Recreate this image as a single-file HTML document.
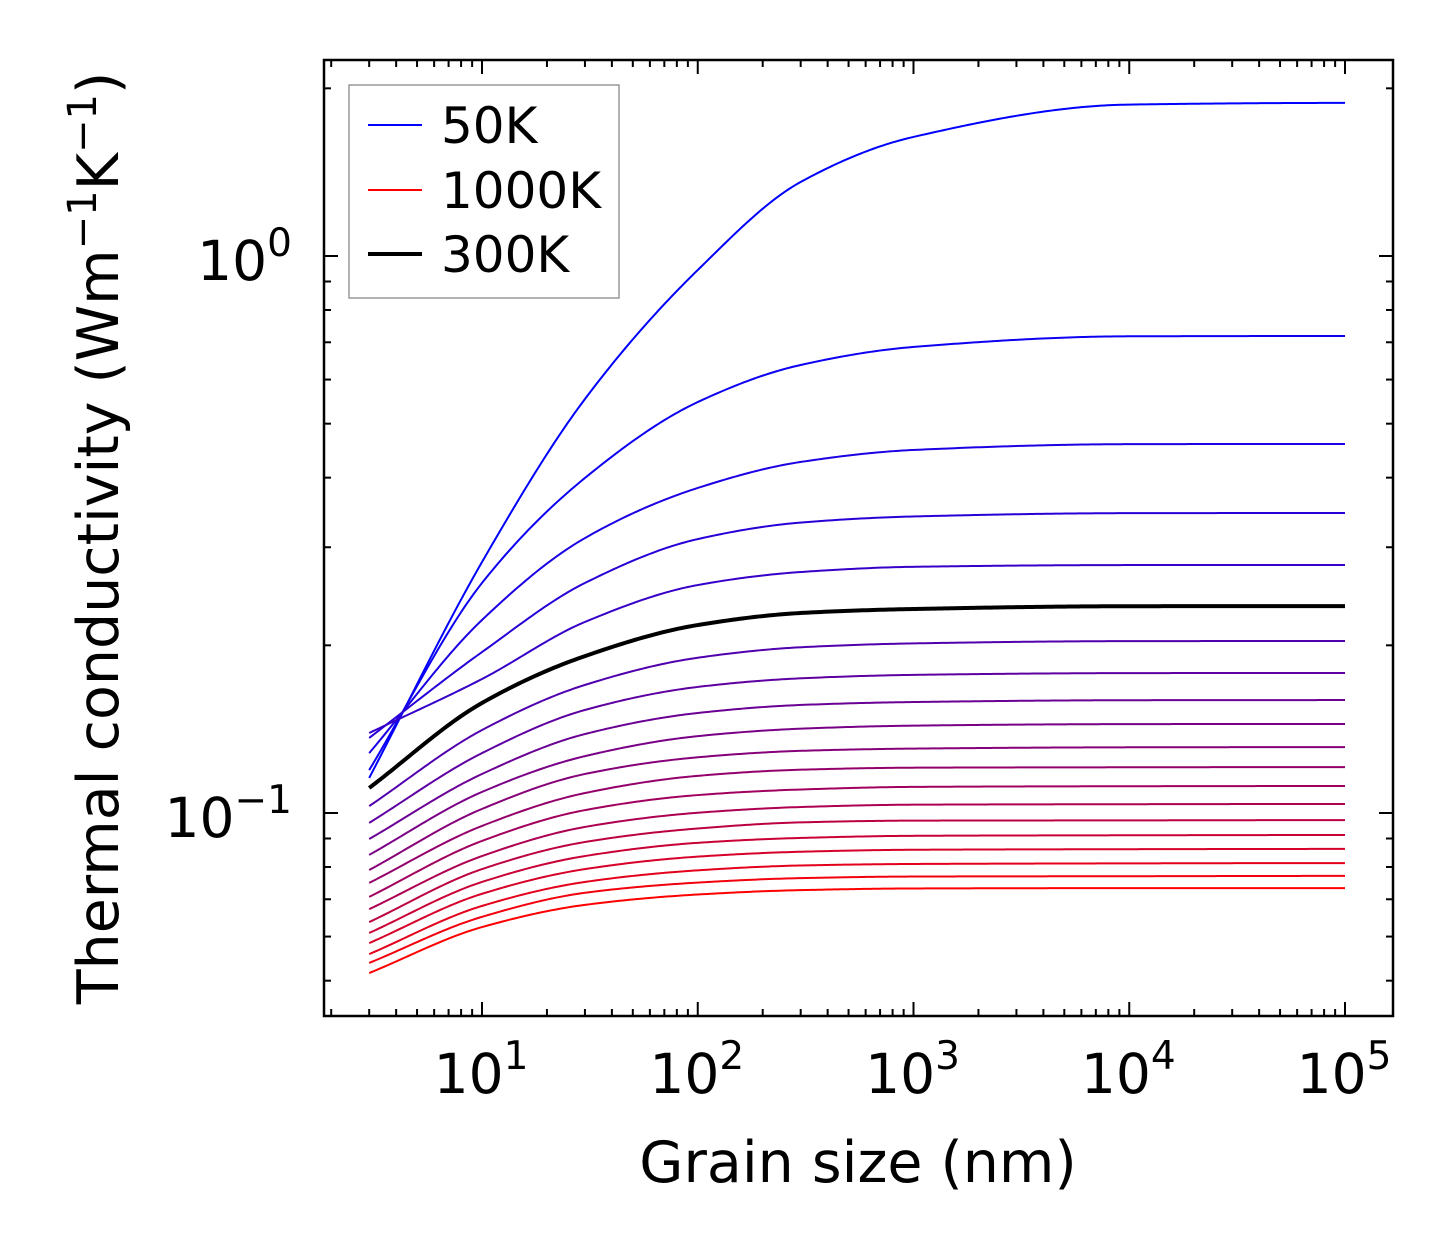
<!DOCTYPE html>
<html><head><meta charset="utf-8">
<style>
html,body{margin:0;padding:0;background:#fff;}
svg{display:block;font-family:"DejaVu Sans","Liberation Sans",sans-serif;}
</style></head>
<body>
<svg id="chart" width="1454" height="1254" viewBox="0 0 1454 1254" xmlns="http://www.w3.org/2000/svg">
<rect x="0" y="0" width="1454" height="1254" fill="#fff"/>
<g id="curves"></g>
<g id="ticks"></g>
<rect x="324" y="60" width="1069" height="956" fill="none" stroke="#000" stroke-width="2.5"/>
<g id="ticklabels" font-size="55" fill="#000"></g>
<text x="858" y="1182" font-size="57" text-anchor="middle">Grain size (nm)</text>
<text transform="translate(118,538) rotate(-90)" font-size="57" text-anchor="middle">Thermal conductivity (Wm<tspan dy="-22" font-size="40">−1</tspan><tspan dy="22">K</tspan><tspan dy="-22" font-size="40">−1</tspan><tspan dy="22">)</tspan></text>
<g>
<rect x="349" y="85" width="270" height="213" fill="#fff" stroke="#999" stroke-width="1.5"/>
<line x1="368" y1="125" x2="422" y2="125" stroke="#0000ff" stroke-width="2"/>
<text x="441" y="143" font-size="50">50K</text>
<line x1="368" y1="190" x2="422" y2="190" stroke="#ff0000" stroke-width="2"/>
<text x="441" y="208" font-size="50">1000K</text>
<line x1="368" y1="254" x2="422" y2="254" stroke="#000" stroke-width="4"/>
<text x="441" y="272" font-size="50">300K</text>
</g>
</svg>
<script>
const grainSizes = [3, 10, 30, 100, 300, 1000, 10000, 100000];
const temperatures = [50,100,150,200,250,300,350,400,450,500,550,600,650,700,750,800,850,900,950,1000];
const k50 = [0.1156,0.2822,0.5536,0.9438,1.358,1.636,1.870,1.883];
const k100 = [0.1194,0.2588,0.3995,0.5467,0.6373,0.6866,0.7175,0.7184];
const k150 = [0.1281,0.2221,0.3116,0.3833,0.4268,0.4485,0.4594,0.4598];
const k200 = [0.1364,0.1945,0.2588,0.3103,0.3322,0.3407,0.3454,0.3456];
const k250 = [0.1392,0.1740,0.2203,0.2566,0.2708,0.2767,0.2787,0.2788];
const k300 = [0.1109,0.1576,0.1913,0.2175,0.2286,0.2324,0.2351,0.2352];
const k350 = [0.1029,0.1409,0.1698,0.1900,0.1984,0.2016,0.2035,0.2036];
const k400 = [0.0960,0.1281,0.1531,0.1684,0.1745,0.1770,0.1783,0.1784];
const k450 = [0.0898,0.1175,0.1386,0.1512,0.1563,0.1582,0.1594,0.1595];
const k500 = [0.0841,0.1091,0.1265,0.1374,0.1417,0.1435,0.1444,0.1445];
const k550 = [0.0790,0.1017,0.1175,0.1259,0.1293,0.1305,0.1312,0.1313];
const k600 = [0.0749,0.0948,0.1086,0.1166,0.1196,0.1206,0.1208,0.1209];
const k650 = [0.0707,0.0891,0.1012,0.1077,0.1102,0.1114,0.1117,0.1118];
const k700 = [0.0672,0.0837,0.0944,0.1001,0.1025,0.1035,0.1037,0.1038];
const k750 = [0.0637,0.0793,0.0887,0.0938,0.0962,0.0969,0.0970,0.0971];
const k800 = [0.0609,0.0752,0.0837,0.0884,0.0902,0.0910,0.0912,0.0913];
const k850 = [0.0584,0.0716,0.0793,0.0835,0.0852,0.0859,0.0861,0.0862];
const k900 = [0.0558,0.0681,0.0752,0.0789,0.0805,0.0810,0.0812,0.0813];
const k950 = [0.0538,0.0651,0.0719,0.0750,0.0764,0.0769,0.0770,0.0771];
const k1000 = [0.0516,0.0624,0.0684,0.0714,0.0727,0.0732,0.0733,0.0733];
const series = [k50,k100,k150,k200,k250,k300,k350,k400,k450,k500,k550,k600,k650,k700,k750,k800,k850,k900,k950,k1000];
const xTickExps = [1,2,3,4,5];
const yTickExps = [0,-1];

const NS = "http://www.w3.org/2000/svg";
const X0 = 482, XPD = 215.75;
const Y0 = 256, YPD = 557;
function xs(v){ return X0 + (Math.log10(v) - 1) * XPD; }
function ys(v){ return Y0 - Math.log10(v) * YPD; }

function spline(xa, ya){
  const n = xa.length, m = [], d = [], h = [];
  for (let i=0;i<n-1;i++){ h.push(xa[i+1]-xa[i]); d.push((ya[i+1]-ya[i])/h[i]); }
  m.push(d[0]);
  for (let i=1;i<n-1;i++){
    if (d[i-1]*d[i] <= 0) { m.push(0); continue; }
    const h0=h[i-1], h1=h[i];
    m.push(3*(h0+h1)/((2*h1+h0)/d[i-1] + (h1+2*h0)/d[i]));
  }
  m.push(0);
  return function(x){
    let i=0; while(i<n-2 && x>xa[i+1]) i++;
    const hh=h[i], t=(x-xa[i])/hh;
    const h00=2*t*t*t-3*t*t+1,h10=t*t*t-2*t*t+t,h01=-2*t*t*t+3*t*t,h11=t*t*t-t*t;
    return h00*ya[i]+h10*hh*m[i]+h01*ya[i+1]+h11*hh*m[i+1];
  };
}

const curves = document.getElementById('curves');
const lx = grainSizes.map(v=>Math.log10(v));
const idx = series.map((s,i)=>i);
const order = idx.filter(i=>temperatures[i]!==300).concat(idx.filter(i=>temperatures[i]===300));
order.forEach(i=>{
  const f = spline(lx, series[i].map(v=>Math.log10(v)));
  const pts = [];
  const a = lx[0], b = lx[lx.length-1];
  for (let j=0;j<=300;j++){
    const L = a + (b-a)*j/300;
    pts.push(xs(Math.pow(10,L)).toFixed(2)+','+ys(Math.pow(10,f(L))).toFixed(2));
  }
  const p = document.createElementNS(NS,'polyline');
  
  
  const t = i/(series.length-1);
  const col = temperatures[i]===300 ? '#000' : 'rgb('+Math.round(255*t)+',0,'+Math.round(255*(1-t))+')';
  p.setAttribute('points', pts.join(' '));
  p.setAttribute('fill','none');
  p.setAttribute('stroke', col);
  p.setAttribute('stroke-width', temperatures[i]===300 ? 4 : 2);
  curves.appendChild(p);
});

const ticks = document.getElementById('ticks');
const L=324,R=1393,T=60,B=1016;
function tick(x1,y1,x2,y2,name){
  const l=document.createElementNS(NS,'line');
  
  
  l.setAttribute('x1',x1);l.setAttribute('y1',y1);l.setAttribute('x2',x2);l.setAttribute('y2',y2);
  l.setAttribute('stroke','#000');l.setAttribute('stroke-width',2);
  ticks.appendChild(l);
}
for (let e=0;e<=5;e++){
  for (let m=1;m<=9;m++){
    const v=m*Math.pow(10,e), x=xs(v);
    if (x<L+1||x>R-1) continue;
    const len = m===1?14:7;
    tick(x,B,x,B-len,'x-tick');
    tick(x,T,x,T+len,'x-tick-top');
  }
}
for (let e=-2;e<=0;e++){
  for (let m=1;m<=9;m++){
    const v=m*Math.pow(10,e), y=ys(v);
    if (y<T+1||y>B-1) continue;
    const len = m===1?14:7;
    tick(L,y,L+len,y,'y-tick');
    tick(R,y,R-len,y,'y-tick-right');
  }
}
const tl = document.getElementById('ticklabels');
xTickExps.forEach(e=>{
  const t=document.createElementNS(NS,'text');
  
  
  t.setAttribute('x', xs(Math.pow(10,e))-1);
  t.setAttribute('y', 1093);
  t.setAttribute('text-anchor','middle');
  t.innerHTML = '10<tspan dy="-24" font-size="39">'+e+'</tspan>';
  tl.appendChild(t);
});
yTickExps.forEach(e=>{
  const t=document.createElementNS(NS,'text');
  
  
  t.setAttribute('x', 292);
  t.setAttribute('y', ys(Math.pow(10,e))+24);
  t.setAttribute('text-anchor','end');
  t.innerHTML = '10<tspan dy="-24" font-size="39">'+(e<0?'−'+(-e):e)+'</tspan>';
  tl.appendChild(t);
});
</script>
</body></html>
